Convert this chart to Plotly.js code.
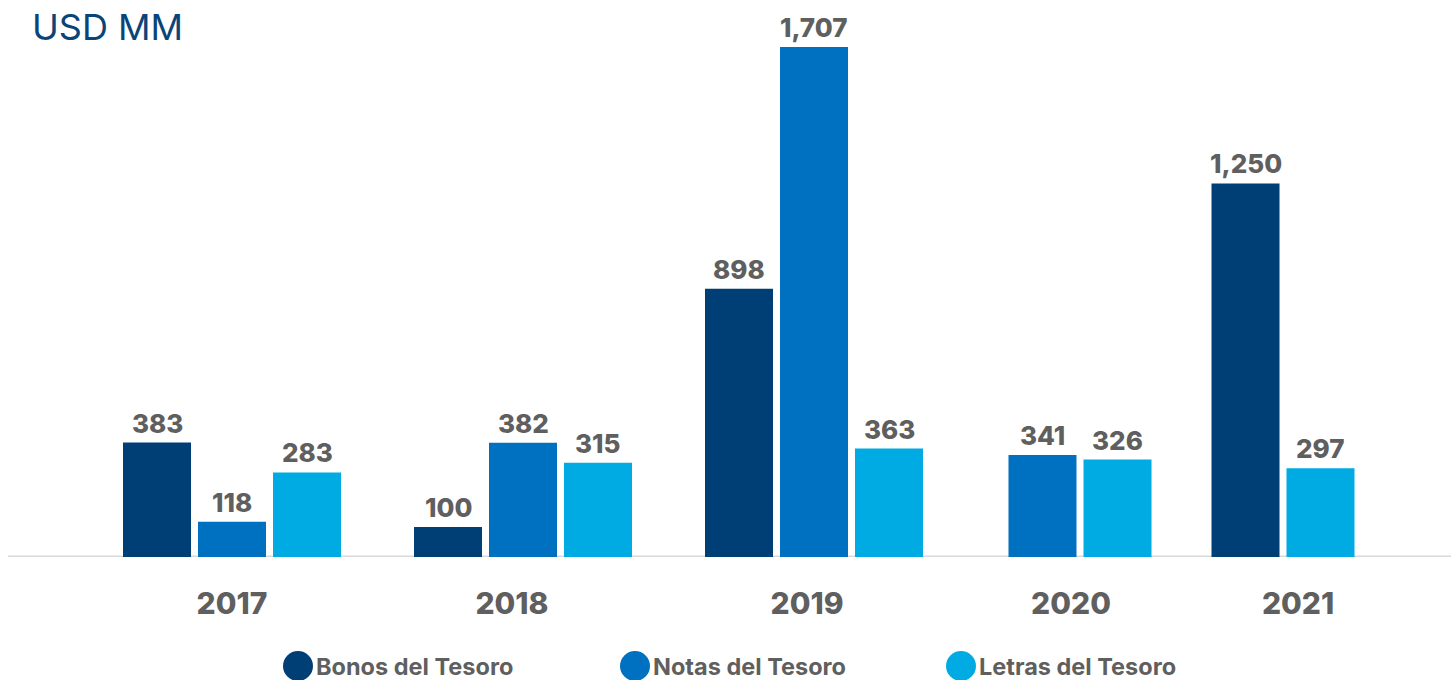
<!DOCTYPE html>
<html>
<head>
<meta charset="utf-8">
<script src="https://cdn.plot.ly/plotly-3.0.1.min.js"></script>
<style>
  html, body { margin: 0; padding: 0; background: #fff; }
  #grafico { width: 1451px; height: 680px; }
</style>
</head>
<body>
<div id="grafico"></div>
<script>
// datos (USD MM)
const anios = ['2017', '2018', '2019', '2020', '2021'];
const bonos = [383, 100, 898, null, 1250];
const notas = [118, 382, 1707, 341, null];
const letras = [283, 315, 363, 326, 297];
const nombresSeries = ['Bonos del Tesoro', 'Notas del Tesoro', 'Letras del Tesoro'];

// posiciones en pixeles (el eje x va de 0 a 1451)
const centrosGrupo = [232, 523, 814, 1080, 1283];
const posEtiquetas = [232, 512, 807, 1071, 1298];
const anchoBarra = 68;
const paso = 75;
const colores = ['#003f75', '#0070c0', '#00abe3'];
const gris = '#5f5f5f';
const fuente = 'Inter, "Open Sans", sans-serif';

const series = [bonos, notas, letras];

function formatear(v) {
  return v.toLocaleString('en-US');
}

// calcula x de cada barra segun cuantas series tienen valor en ese año
const trazas = series.map((valores, s) => ({ type: 'bar', x: [], y: [], name: nombresSeries[s],
  width: anchoBarra, marker: { color: colores[s] }, showlegend: false, hoverinfo: 'y' }));
const anotaciones = [];

anios.forEach((anio, i) => {
  const presentes = series.map((v, s) => s).filter(s => series[s][i] !== null);
  presentes.forEach((s, j) => {
    const x = centrosGrupo[i] + (j - (presentes.length - 1) / 2) * paso;
    const v = series[s][i];
    trazas[s].x.push(x);
    trazas[s].y.push(v);
    anotaciones.push({ x: x, y: v, xref: 'x', yref: 'y', text: formatear(v),
      showarrow: false, yanchor: 'bottom', yshift: 2,
      font: { family: fuente, size: 26, color: gris, weight: 800 } });
  });
});

// leyenda dibujada a mano (circulos grandes)
const leyendaX = [298, 635, 961];
const formas = [{ type: 'line', xref: 'x', yref: 'y', x0: 8, x1: 1451, y0: 0, y1: 0,
  line: { color: '#d9d9d9', width: 3 }, layer: 'below' }];
nombresSeries.forEach((nombre, s) => {
  formas.push({ type: 'circle', xref: 'x', yref: 'paper', xsizemode: 'pixel', ysizemode: 'pixel',
    xanchor: leyendaX[s], yanchor: 0, x0: -15, x1: 15, y0: -124, y1: -94,
    fillcolor: colores[s], line: { width: 0 } });
  anotaciones.push({ x: leyendaX[s] + 16, y: 0, xref: 'x', yref: 'paper', xanchor: 'left', yanchor: 'middle',
    yshift: -109, showarrow: false, text: nombre,
    font: { family: fuente, size: 23.5, color: gris, weight: 700 } });
});

// titulo arriba a la izquierda
anotaciones.push({ x: 30, y: 1 - 27 / 557, xref: 'x', yref: 'paper', xanchor: 'left', yanchor: 'middle',
  text: 'USD MM', showarrow: false, font: { family: fuente, size: 36, color: '#0a4478' } });

const diseno = {
  width: 1451,
  height: 680,
  margin: { l: 0, r: 0, t: 0, b: 123 },
  paper_bgcolor: '#fff',
  plot_bgcolor: '#fff',
  xaxis: { range: [0, 1451], tickvals: posEtiquetas, ticktext: anios,
    showgrid: false, zeroline: false, showline: false, ticks: '', ticklabelstandoff: 26,
    tickfont: { family: fuente, size: 30, color: gris, weight: 800 } },
  yaxis: { range: [0, 1864], visible: false, showgrid: false, zeroline: false },
  shapes: formas,
  annotations: anotaciones,
  barmode: 'overlay',
  showlegend: false
};

Plotly.newPlot('grafico', trazas, diseno, { displayModeBar: false, staticPlot: true });
</script>
</body>
</html>
